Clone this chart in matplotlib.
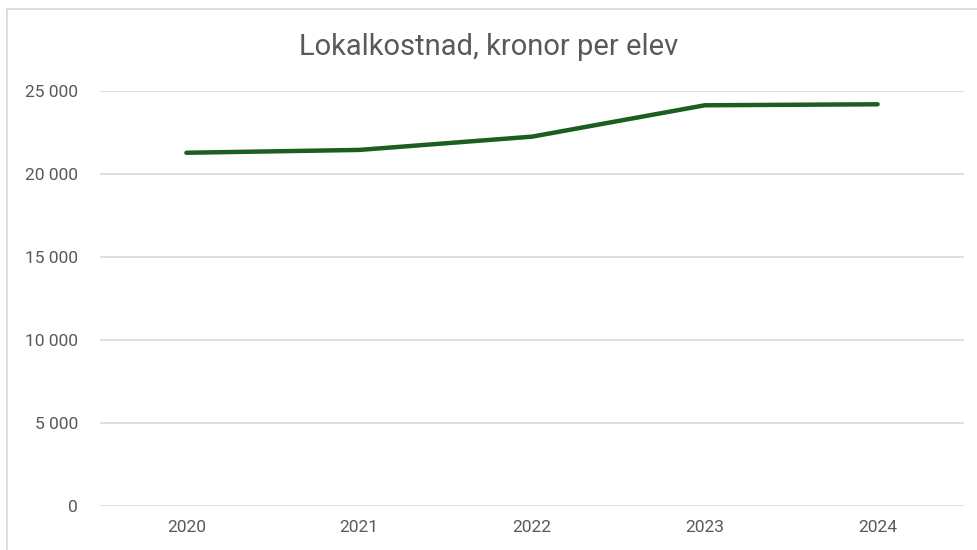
import matplotlib
matplotlib.use('Agg')
import matplotlib.pyplot as plt
from matplotlib.ticker import FuncFormatter, MultipleLocator
from matplotlib.lines import Line2D

# Data
years = ['2020', '2021', '2022', '2023', '2024']
kostnad = [21280, 21450, 22250, 24140, 24200]

plt.rcParams['font.family'] = ['Roboto', 'DejaVu Sans']

W, H = 978, 550
fig = plt.figure(figsize=(W / 100, H / 100), dpi=100)
fig.patch.set_facecolor('white')

# Chart border (light gray frame, cut at right/bottom)
fig.add_artist(Line2D([7 / W, 7 / W], [0, 1 - 9 / H], color='#d9d9d9', lw=1.2))
fig.add_artist(Line2D([7 / W, 1], [1 - 9 / H, 1 - 9 / H], color='#d9d9d9', lw=1.2))

ax = fig.add_axes([100 / W, (H - 506) / H, (964 - 100) / W, (506 - 91) / H])
x = list(range(len(years)))
ax.plot(x, kostnad, color='#1b5e20', lw=3.2, solid_capstyle='round',
        solid_joinstyle='round', zorder=3)

ax.set_xlim(-0.5, len(years) - 0.5)
ax.set_ylim(0, 25000)
ax.yaxis.set_major_locator(MultipleLocator(5000))
ax.yaxis.set_major_formatter(FuncFormatter(lambda v, p: f'{int(v):,}'.replace(',', ' ')))
ax.set_xticks(x)
ax.set_xticklabels(years)

ax.grid(axis='y', color='#d9d9d9', lw=1.2)
ax.set_axisbelow(True)
for s in ax.spines.values():
    s.set_visible(False)
ax.tick_params(axis='both', length=0, colors='#595959', labelsize=12.5)
ax.tick_params(axis='y', pad=16)
ax.tick_params(axis='x', pad=10)

fig.text(0.5, 1 - 47 / H, 'Lokalkostnad, kronor per elev', ha='center', va='center',
         fontsize=21, color='#595959')

fig.savefig('out.png', dpi=100)
